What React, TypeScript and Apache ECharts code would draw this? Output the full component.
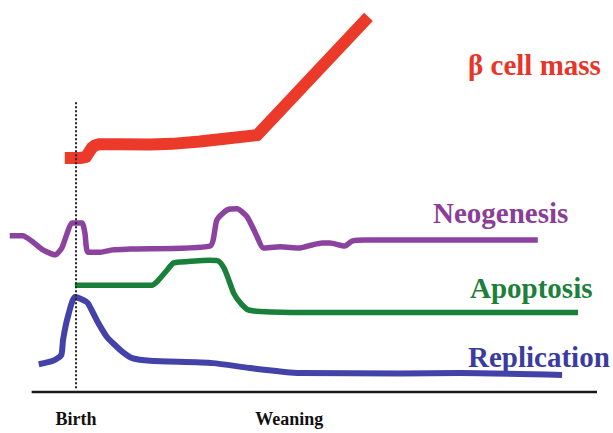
import React, { useEffect, useRef } from "react";
import * as echarts from "echarts";

// x: time (arbitrary units, Birth = 12, Weaning = 48); y: relative level
const xTickValues = [12, 48];
const xTickLabels = ["Birth", "Weaning"];

const seriesNames = ["β cell mass", "Neogenesis", "Apoptosis", "Replication"];

const massX = [10.1, 12.7, 13.2, 13.7, 14.0, 14.4, 14.7, 15.2, 15.9, 19.4, 24.5, 28.2, 32.9, 36.7, 42.6, 61.4];
const massY = [61.6, 61.6, 61.7, 61.9, 62.6, 63.6, 64.3, 64.9, 65.2, 65.2, 65.1, 65.3, 65.9, 66.6, 67.6, 98.7];

const neoX = [0.8, 3.0, 4.7, 6.4, 8.5, 9.6, 10.5, 11.3, 13.0, 13.5, 14.0, 16.1, 18.2, 21.1, 34.6, 35.8, 37.5, 39.2, 40.9, 42.6, 43.6, 46.5, 49.8, 51.9, 53.6, 54.9, 57.4, 58.6, 60.8, 90.0];
const neoY = [41.1, 41.1, 39.5, 37.4, 36.1, 37.9, 41.8, 44.5, 44.5, 41.8, 36.8, 36.8, 37.4, 37.6, 38.4, 45.3, 47.9, 48.2, 46.1, 40.8, 37.9, 38.2, 37.9, 38.7, 39.2, 39.2, 38.4, 39.7, 40.0, 40.0];

const apoX = [11.8, 24.8, 25.8, 27.4, 28.4, 29.6, 34.6, 36.0, 37.0, 37.8, 38.7, 39.9, 41.1, 43.1, 49.8, 96.8];
const apoY = [28.1, 28.1, 29.2, 32.1, 33.9, 34.2, 34.7, 34.5, 32.6, 29.5, 25.8, 23.2, 21.6, 21.2, 20.9, 20.9];

const repX = [5.7, 8.1, 9.5, 9.8, 10.6, 11.8, 13.2, 14.0, 15.5, 17.2, 18.2, 19.9, 21.5, 24.5, 35.1, 41.4, 49.8, 66.7, 76.9, 94.1];
const repY = [7.3, 8.2, 9.7, 13.7, 19.7, 25.0, 24.2, 23.4, 18.9, 14.5, 12.9, 10.5, 8.9, 8.2, 7.6, 6.3, 5.0, 4.9, 5.0, 4.5];

const baseX = [4.5, 100];
const baseY = [0, 0];
const birthLineX = [12, 12];
const birthLineY = [1, 76.8];

const zip = (xs: number[], ys: number[]) => xs.map((x, i) => [x, ys[i]]);

export default function App() {
  const ref = useRef<HTMLDivElement>(null);
  useEffect(() => {
    if (!ref.current) return;
    const chart = echarts.init(ref.current, null, { renderer: "svg" });
    const serif = "Liberation Serif";
    const lineSeries = (name: string, data: number[][], color: string, width: number, smooth: number | boolean, z = 2, join = "round") => ({
      type: "line",
      name,
      data,
      showSymbol: false,
      symbol: "none",
      smooth,
      clip: false,
      z,
      silent: true,
      lineStyle: { color, width, cap: "butt", join },
    });
    const label = (text: string, x: number, y: number, fill: string) => ({
      type: "text",
      x,
      y,
      style: { text, fill, fontSize: 29, fontWeight: "bold", fontFamily: serif, align: "left", verticalAlign: "middle" },
    });
    chart.setOption({
      animation: false,
      backgroundColor: "#ffffff",
      textStyle: { fontFamily: serif },
      grid: { left: 5, right: 16, top: 12, bottom: 41 },
      xAxis: {
        type: "value",
        min: 0,
        max: 100,
        interval: 12,
        axisLine: { show: false },
        axisTick: { show: false },
        splitLine: { show: false },
        axisLabel: {
          showMinLabel: false,
          showMaxLabel: false,
          formatter: (v: number) => {
            const i = xTickValues.indexOf(v);
            return i >= 0 ? xTickLabels[i] : "";
          },
          fontFamily: serif,
          fontWeight: "bold",
          fontSize: 18,
          color: "#111111",
          margin: 27,
          verticalAlign: "middle",
        },
      },
      yAxis: { type: "value", min: 0, max: 100, show: false },
      series: [
        lineSeries("baseline", zip(baseX, baseY), "#1a1a1a", 2.5, false, 1),
        lineSeries(seriesNames[0], zip(massX, massY), "#EC3A2A", 12, false, 2, "miter"),
        lineSeries(seriesNames[1], zip(neoX, neoY), "#8C43A0", 5.5, 0.2),
        lineSeries(seriesNames[2], zip(apoX, apoY), "#18803B", 5.5, 0.2),
        lineSeries(seriesNames[3], zip(repX, repY), "#4242A8", 6, 0.2),
        {
          type: "line",
          name: "birth",
          data: zip(birthLineX, birthLineY),
          showSymbol: false,
          symbol: "none",
          clip: false,
          z: 5,
          silent: true,
          lineStyle: { color: "#222222", width: 2, type: [2, 2], cap: "butt" },
        },
      ],
      graphic: [
        label(seriesNames[0], 468, 65, "#E8352A"),
        label(seriesNames[1], 433, 213, "#8A3E98"),
        label(seriesNames[2], 470, 288, "#1C7F3A"),
        label(seriesNames[3], 468, 357, "#3C3CA0"),
      ],
    });
    return () => chart.dispose();
  }, []);
  return (
    <div
      ref={ref}
      style={{ position: "fixed", left: 0, top: 0, width: 613, height: 433, background: "#fff" }}
    />
  );
}
